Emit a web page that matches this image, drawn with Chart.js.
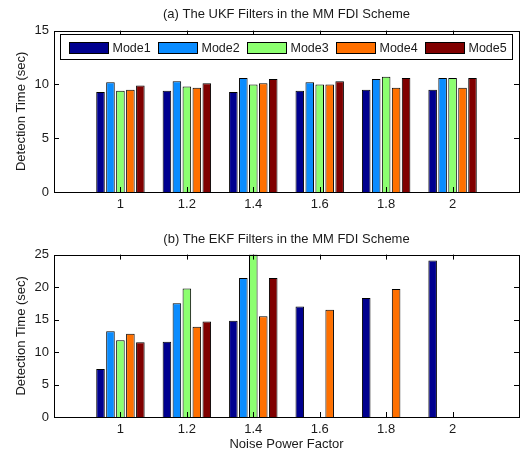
<!DOCTYPE html>
<html>
<head>
<meta charset="utf-8">
<script src="https://cdn.jsdelivr.net/npm/chart.js@4/dist/chart.umd.min.js"></script>
<style>
  html, body { margin: 0; padding: 0; background: #fff; }
  #wrap { position: relative; width: 528px; height: 452px; }
  .panel { position: absolute; left: 0; width: 528px; height: 226px; }
  #panelA { top: 0; }
  #panelB { top: 226px; }
</style>
</head>
<body>
<div id="wrap">
  <div class="panel" id="panelA"><canvas id="ukfChart"></canvas></div>
  <div class="panel" id="panelB"><canvas id="ekfChart"></canvas></div>
</div>
<script>
  // noise power factor, padded with empty slots so the axis runs 0.8 .. 2.2
  const xLabels = ['', '1', '1.2', '1.4', '1.6', '1.8', '2', ''];
  const modeNames = ['Mode1', 'Mode2', 'Mode3', 'Mode4', 'Mode5'];
  const modeColors = ['#00008f', '#0a8cff', '#8cff70', '#ff7000', '#800000'];

  // (a) UKF detection times (sec)
  const ukfMode1 = [9.3, 9.4, 9.3, 9.4, 9.5, 9.5];
  const ukfMode2 = [10.2, 10.3, 10.6, 10.2, 10.5, 10.6];
  const ukfMode3 = [9.4, 9.8, 10.0, 10.0, 10.7, 10.6];
  const ukfMode4 = [9.5, 9.7, 10.1, 10.0, 9.7, 9.7];
  const ukfMode5 = [9.9, 10.1, 10.5, 10.3, 10.6, 10.6];

  // (b) EKF detection times (sec)
  const ekfMode1 = [7.4, 11.6, 14.8, 17.0, 18.3, 24.1];
  const ekfMode2 = [13.2, 17.5, 21.4, 0, 0, 0];
  const ekfMode3 = [11.8, 19.8, 25.0, 0, 0, 0];
  const ekfMode4 = [12.8, 13.9, 15.5, 16.5, 19.7, 0];
  const ekfMode5 = [11.5, 14.7, 21.4, 0, 0, 0];

  const FONT = "'Liberation Sans', Arial, Helvetica, sans-serif";
  const INK = '#1a1a1a';
  Chart.defaults.font.family = FONT;
  Chart.defaults.color = INK;

  const pad = arr => [null, ...arr, null];

  // matlab style axes box with inward tick marks
  const boxPlugin = {
    id: 'matlabBox',
    afterDatasetsDraw(chart) {
      const { ctx, chartArea: a, scales: { x, y } } = chart;
      const len = 5;
      ctx.save();
      ctx.strokeStyle = '#000';
      ctx.lineWidth = 1;
      ctx.beginPath();
      x.ticks.forEach((t, i) => {
        if (!xLabels[i]) return;
        const px = Math.round(x.getPixelForTick(i)) + 0.5;
        ctx.moveTo(px, a.bottom); ctx.lineTo(px, a.bottom - len);
        ctx.moveTo(px, a.top); ctx.lineTo(px, a.top + len);
      });
      y.ticks.forEach((t, i) => {
        const py = Math.round(y.getPixelForTick(i)) + 0.5;
        ctx.moveTo(a.left, py); ctx.lineTo(a.left + len, py);
        ctx.moveTo(a.right, py); ctx.lineTo(a.right - len, py);
      });
      ctx.stroke();
      ctx.strokeRect(Math.round(a.left) + 0.5, Math.round(a.top) + 0.5,
        Math.round(a.right - a.left), Math.round(a.bottom - a.top));
      ctx.restore();
    }
  };

  // boxed legend drawn inside the top of the plot, like the original figure
  const insideLegend = {
    id: 'insideLegend',
    afterDraw(chart, args, opts) {
      if (!opts.show) return;
      const { ctx, chartArea: a } = chart;
      const bx = Math.round(a.left + 6) + 0.5;
      const by = Math.round(a.top + 3) + 0.5;
      const bw = Math.round(a.right - a.left - 13);
      const bh = 25;
      ctx.save();
      ctx.fillStyle = '#fff';
      ctx.fillRect(bx, by, bw, bh);
      ctx.strokeStyle = '#000';
      ctx.lineWidth = 1;
      ctx.strokeRect(bx, by, bw, bh);
      ctx.font = '12.5px ' + FONT;
      ctx.textBaseline = 'middle';
      chart.data.datasets.forEach((ds, i) => {
        const sx = Math.round(bx + 8 + i * 89) + 0.5;
        const sy = Math.round(by + 7) + 0.5;
        ctx.fillStyle = ds.backgroundColor;
        ctx.fillRect(sx, sy, 39, 11);
        ctx.strokeStyle = '#000';
        ctx.strokeRect(sx, sy, 39, 11);
        ctx.fillStyle = INK;
        ctx.fillText(ds.label, sx + 43, sy + 6);
      });
      ctx.restore();
    }
  };

  function makeChart(el, cfg) {
    const datasets = cfg.series.map((vals, i) => ({
      label: modeNames[i],
      data: pad(vals),
      backgroundColor: modeColors[i],
      borderColor: '#000',
      borderWidth: 1,
      categoryPercentage: 0.75,
      barPercentage: 0.86
    }));
    return new Chart(el, {
      type: 'bar',
      data: { labels: xLabels, datasets },
      plugins: [boxPlugin, insideLegend],
      options: {
        responsive: true,
        maintainAspectRatio: false,
        animation: false,
        layout: { padding: { left: 0, right: 9, top: 0, bottom: 0 } },
        plugins: {
          legend: { display: false },
          tooltip: { enabled: false },
          insideLegend: { show: cfg.legend },
          title: {
            display: true,
            text: cfg.title,
            fullSize: false,
            font: { size: 13, weight: 'normal' },
            color: INK,
            padding: cfg.titlePad
          }
        },
        scales: {
          x: {
            type: 'category',
            offset: false,
            grid: { display: false, drawTicks: false },
            border: { display: false },
            ticks: { font: { size: 13 }, padding: 5, maxRotation: 0, autoSkip: false },
            title: {
              display: !!cfg.xTitle,
              text: cfg.xTitle || '',
              font: { size: 13 },
              padding: { top: 0, bottom: 0 }
            },
            afterFit: s => { s.height = cfg.xHeight; }
          },
          y: {
            min: 0,
            max: cfg.yMax,
            grid: { display: false, drawTicks: false },
            border: { display: false },
            ticks: { stepSize: 5, font: { size: 13 }, padding: 5 },
            title: {
              display: true,
              text: 'Detection Time (sec)',
              font: { size: 13 },
              padding: { top: 14, bottom: 0 }
            },
            afterFit: s => { s.width = 54; }
          }
        }
      }
    });
  }

  makeChart(document.getElementById('ukfChart'), {
    title: '(a) The UKF Filters in the MM FDI Scheme',
    series: [ukfMode1, ukfMode2, ukfMode3, ukfMode4, ukfMode5],
    yMax: 15,
    legend: true,
    titlePad: { top: 7, bottom: 8 },
    xHeight: 34
  });

  makeChart(document.getElementById('ekfChart'), {
    title: '(b) The EKF Filters in the MM FDI Scheme',
    series: [ekfMode1, ekfMode2, ekfMode3, ekfMode4, ekfMode5],
    yMax: 25,
    legend: false,
    titlePad: { top: 6, bottom: 7 },
    xHeight: 35,
    xTitle: 'Noise Power Factor'
  });
</script>
</body>
</html>
